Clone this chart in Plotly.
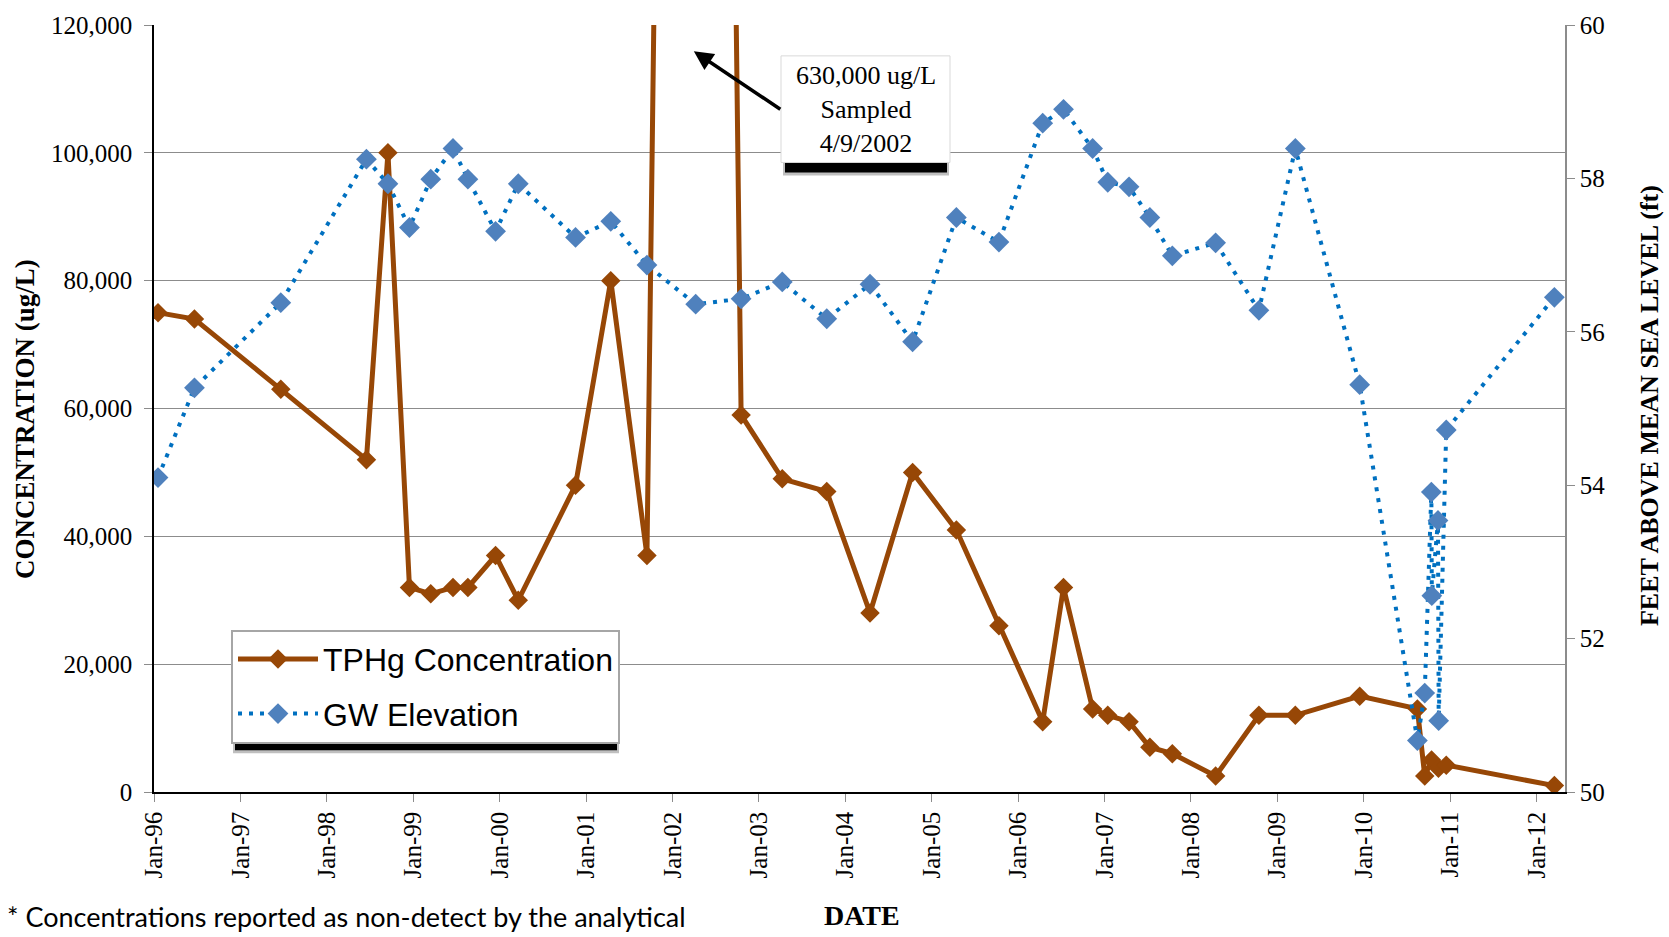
import plotly.graph_objects as go

# ---------------- data ----------------
tphg_dates = ["1996-01-18", "1996-06-20", "1997-06-20", "1998-06-17", "1998-09-16",
              "1998-12-16", "1999-03-16", "1999-06-18", "1999-08-20", "1999-12-15",
              "2000-03-20", "2000-11-17", "2001-04-15", "2001-09-15", "2002-04-09",
              "2002-10-18", "2003-04-10", "2003-10-15", "2004-04-15", "2004-10-12",
              "2005-04-15", "2005-10-12", "2006-04-15", "2006-07-12", "2006-11-12",
              "2007-01-15", "2007-04-15", "2007-07-12", "2007-10-15", "2008-04-15",
              "2008-10-15", "2009-03-18", "2009-12-15", "2010-08-16", "2010-09-16",
              "2010-10-15", "2010-11-13", "2010-12-16", "2012-03-17"]
tphg_values = [75000, 74000, 63000, 52000, 100000,
               32000, 31000, 32000, 32000, 37000,
               30000, 48000, 80000, 37000, 630000,
               59000, 49000, 47000, 28000, 50000,
               41000, 26000, 11000, 32000, 13000,
               12000, 11000, 7000, 6000, 2500,
               12000, 12000, 15000, 13000, 2500,
               5000, 3700, 4200, 1000]

gw_dates = ["1996-01-18", "1996-06-20", "1997-06-20", "1998-06-17", "1998-09-16",
            "1998-12-16", "1999-03-16", "1999-06-18", "1999-08-20", "1999-12-15",
            "2000-03-20", "2000-11-17", "2001-04-15", "2001-09-15", "2002-04-09",
            "2002-10-18", "2003-04-10", "2003-10-15", "2004-04-15", "2004-10-12",
            "2005-04-15", "2005-10-12", "2006-04-15", "2006-07-12", "2006-11-12",
            "2007-01-15", "2007-04-15", "2007-07-12", "2007-10-15", "2008-04-15",
            "2008-10-15", "2009-03-18", "2009-12-15", "2010-08-16", "2010-09-16",
            "2010-10-14", "2010-10-16", "2010-11-11", "2010-11-14", "2010-12-16",
            "2012-03-17"]
gw_values = [54.10, 55.27, 56.38, 58.25, 57.93,
             57.36, 57.99, 58.39, 57.99, 57.31,
             57.93, 57.23, 57.44, 56.87, 56.36,
             56.43, 56.65, 56.17, 56.62, 55.87,
             57.49, 57.17, 58.72, 58.90, 58.39,
             57.95, 57.89, 57.49, 56.99, 57.16,
             56.28, 58.39, 55.31, 50.67, 51.29,
             53.91, 52.56, 53.54, 50.93, 54.72,
             56.45]

x_tick_vals = ["1996-01-01", "1997-01-01", "1998-01-01", "1999-01-01", "2000-01-01",
               "2001-01-01", "2002-01-01", "2003-01-01", "2004-01-01", "2005-01-01",
               "2006-01-01", "2007-01-01", "2008-01-01", "2009-01-01", "2010-01-01",
               "2011-01-01", "2012-01-01"]
x_tick_text = ["Jan-96", "Jan-97", "Jan-98", "Jan-99", "Jan-00", "Jan-01", "Jan-02",
               "Jan-03", "Jan-04", "Jan-05", "Jan-06", "Jan-07", "Jan-08", "Jan-09",
               "Jan-10", "Jan-11", "Jan-12"]

# ---------------- layout geometry ----------------
W, H = 1669, 937
L, R, T, B = 154, 104, 22, 145
PW, PH = W - L - R, H - T - B


def px(p):
    return (p - L) / PW


def py(p):
    return (H - B - p) / PH


SERIF = "Liberation Serif"
SANS = "Liberation Sans"
BROWN = "#974706"
GRID = "#8c8c8c"

fig = go.Figure()

fig.add_trace(go.Scatter(
    x=tphg_dates, y=tphg_values, name="TPHg Concentration",
    mode="lines+markers", legendgroup="a",
    line=dict(color=BROWN, width=5),
    marker=dict(symbol="diamond", size=15, color=BROWN),
    yaxis="y",
))
fig.add_trace(go.Scatter(
    x=gw_dates, y=gw_values, name="GW Elevation",
    mode="lines+markers", legendgroup="b",
    line=dict(color="#0070C0", width=4, dash="4px,7px"),
    marker=dict(symbol="diamond", size=16, color="#4F81BD"),
    yaxis="y2",
))

shapes = [
    # legend shadow
    dict(type="rect", xref="paper", yref="paper", x0=px(233), x1=px(619),
         y0=py(753), y1=py(738), fillcolor="rgba(0,0,0,0.25)", line_width=0, layer="above"),
    dict(type="rect", xref="paper", yref="paper", x0=px(235), x1=px(617),
         y0=py(750), y1=py(738), fillcolor="#000000", line_width=0, layer="above"),
    # callout box shadow + box
    dict(type="rect", xref="paper", yref="paper", x0=px(783), x1=px(949),
         y0=py(173), y1=py(158), fillcolor="rgba(0,0,0,0.25)", line_width=0, layer="above"),
    dict(type="rect", xref="paper", yref="paper", x0=px(785), x1=px(947),
         y0=py(170), y1=py(158), fillcolor="#000000", line_width=0, layer="above"),
    dict(type="rect", xref="paper", yref="paper", x0=px(781), x1=px(950),
         y0=py(160), y1=py(53), fillcolor="white", line=dict(color="#d9d9d9", width=1),
         layer="above"),
]

annotations = [
    dict(xref="paper", yref="paper", x=px(865.5), y=py(106.5), showarrow=False,
         xanchor="center", yanchor="middle",
         text="630,000 ug/L<br>Sampled<br>4/9/2002", align="center",
         font=dict(family=SERIF, size=26, color="black")),
    dict(xref="x", yref="y", x="2002-04-01", y=115900, ax=88, ay=59,
         text="", showarrow=True, arrowhead=2, arrowsize=1.1, arrowwidth=3.5,
         arrowcolor="black"),
    dict(xref="paper", yref="paper", x=px(25.5), y=py(418), showarrow=False,
         xanchor="center", yanchor="middle",
         text="<b>CONCENTRATION (ug/L)</b>", textangle=-90,
         font=dict(family=SERIF, size=27, color="black")),
    dict(xref="paper", yref="paper", x=px(1649), y=py(404.5), showarrow=False,
         xanchor="center", yanchor="middle",
         text="<b>FEET ABOVE MEAN SEA LEVEL (ft)</b>", textangle=-90,
         font=dict(family=SERIF, size=26, color="black")),
    dict(xref="paper", yref="paper", x=px(862), y=py(916), showarrow=False,
         xanchor="center", yanchor="middle",
         text="<b>DATE</b>", font=dict(family=SERIF, size=28, color="black")),
    dict(xref="paper", yref="paper", x=px(5), y=py(917), showarrow=False,
         xanchor="left", yanchor="middle",
         text="* Concentrations reported as non-detect by the analytical",
         font=dict(family="Lato", size=27, color="black")),
]

fig.update_layout(
    width=W, height=H,
    margin=dict(l=L, r=R, t=T, b=B, pad=0),
    paper_bgcolor="white", plot_bgcolor="white",
    showlegend=True,
    legend=dict(x=px(231), y=py(629), xanchor="left", yanchor="top",
                bgcolor="white", bordercolor="#a6a6a6", borderwidth=2,
                font=dict(family=SANS, size=32, color="black"),
                traceorder="grouped", tracegroupgap=10, itemwidth=80),
    xaxis=dict(type="date", range=["1996-01-01", "2012-05-01"],
               tickvals=x_tick_vals, ticktext=x_tick_text, tickangle=-90,
               tickfont=dict(family=SERIF, size=25, color="black"),
               showline=True, linecolor="black", linewidth=1.5,
               ticks="outside", ticklen=8, tickcolor=GRID, showgrid=False,
               zeroline=False),
    yaxis=dict(range=[0, 120000], dtick=20000, tickformat=",",
               tickfont=dict(family=SERIF, size=25, color="black"),
               showline=True, linecolor="black", linewidth=1.5,
               ticks="outside", ticklen=8, tickcolor=GRID, ticklabelstandoff=7,
               showgrid=True, gridcolor=GRID, gridwidth=1, zeroline=False),
    yaxis2=dict(range=[50, 60], dtick=2, overlaying="y", side="right", anchor="x",
                tickfont=dict(family=SERIF, size=25, color="black"),
                showline=True, linecolor=GRID, linewidth=1.5,
                ticks="outside", ticklen=8, tickcolor=GRID,
                showgrid=False, zeroline=False),
    shapes=shapes,
    annotations=annotations,
)

fig.write_html("out.html", config={"displayModeBar": False},
               post_script="document.body.style.margin='0';document.body.style.overflow='hidden';")
